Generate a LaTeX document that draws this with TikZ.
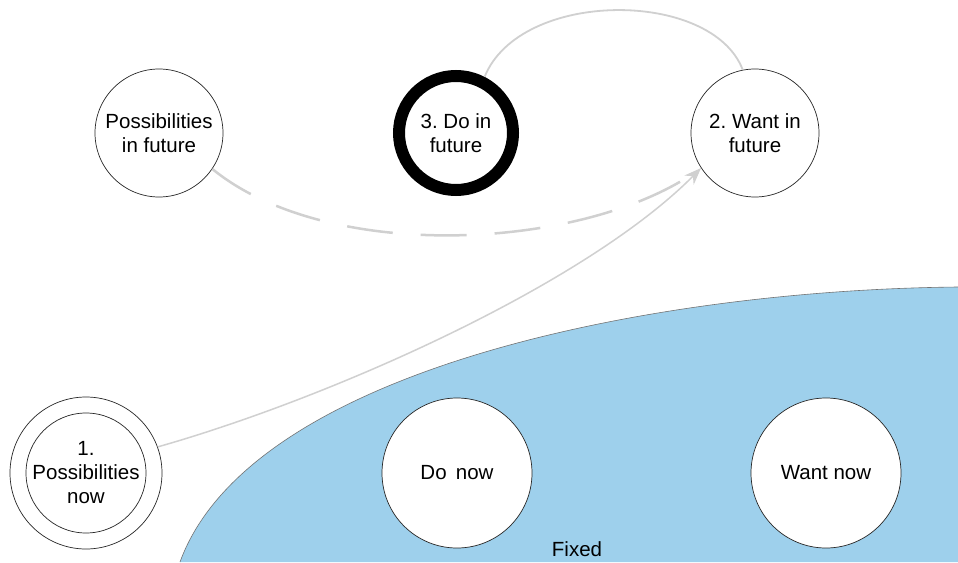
\documentclass[tikz,border=0pt]{standalone}
\usepackage{fontspec}
\setmainfont{Liberation Sans}
\usetikzlibrary{arrows.meta}
\definecolor{skyfill}{RGB}{158,208,236}
\definecolor{linkgray}{RGB}{208,208,208}
\frenchspacing
\begin{document}
\begin{tikzpicture}[x=1pt,y=-1pt,
  bub/.style={circle, draw=black!85, line width=0.7pt, fill=white, inner sep=0pt, align=center, font=\fontsize{20.5}{24}\selectfont},
  link/.style={draw=linkgray, line width=1.8pt}]
\useasboundingbox (0,0) rectangle (958,562);
\fill[white] (0,0) rectangle (958,562);
\fill[skyfill] (958,287) .. controls (650,290) and (250,370) .. (180,562) -- (958,562) -- cycle;
\draw[black!55, line width=0.6pt] (958,287) .. controls (650,290) and (250,370) .. (180,562);

\node[bub, minimum size=128pt] (pf) at (159,133) {Possibilities\\in future};
\node[bub, minimum size=114pt, line width=12pt, draw=black] (df) at (456,133) {3. Do in\\future};
\node[bub, minimum size=128pt] (wf) at (755,133) {2. Want in\\future};
\node[bub, minimum size=152pt] (pn) at (86,473) {1.\\Possibilities\\now};
\draw[black!85, line width=0.7pt] (pn.center) circle[radius=60pt];
\node[bub, minimum size=150pt] (dn) at (457,473) {Do\hspace{0.45em}now};
\node[bub, minimum size=150pt] (wn) at (826,473) {Want now};
\node[font=\fontsize{20.5}{24}\selectfont, inner sep=0pt] (fx) at (577,549) {Fixed};

\draw[link] (df.63) .. controls (520,-11) and (712,-11) .. (wf.101);
\draw[link, line width=2.5pt, dash pattern=on 46pt off 28pt] (pf.-34) .. controls (330,265) and (590,250) .. (wf.213);
\draw[link, line width=1.5pt, -{Stealth[length=17pt, width=13pt]}] (pn.20) .. controls (330,398) and (585,285) .. (wf.213);
\end{tikzpicture}
\end{document}
